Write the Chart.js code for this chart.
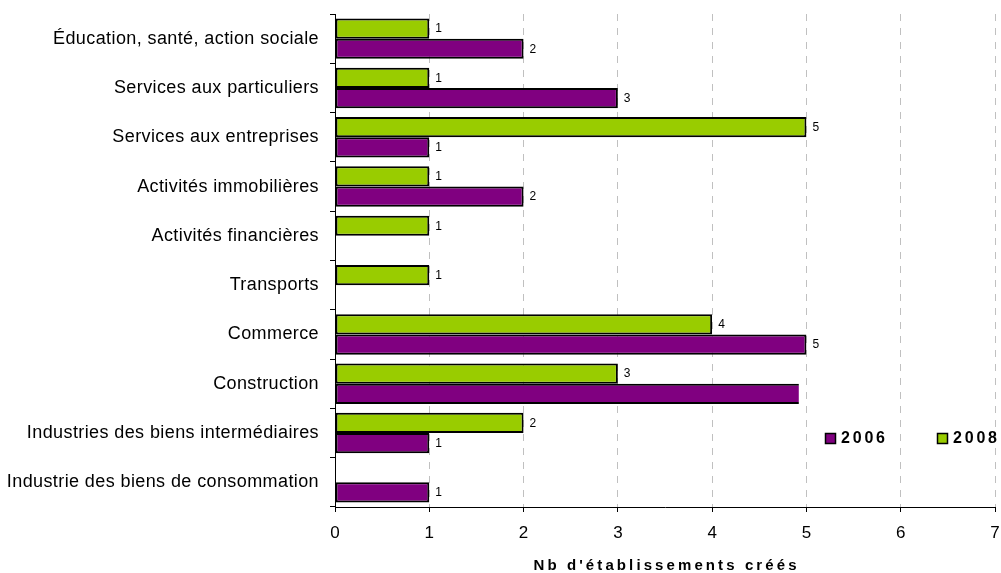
<!DOCTYPE html>
<html>
<head>
<meta charset="utf-8">
<script src="https://cdn.jsdelivr.net/npm/chart.js@4.4.1/dist/chart.umd.min.js"></script>
<style>
  html, body { margin: 0; padding: 0; background: #fff; }
  #wrap { position: relative; width: 1001px; height: 573px; }
</style>
</head>
<body>
<div id="wrap"><canvas id="c"></canvas></div>
<script>
const categories = [
  "Éducation, santé, action sociale",
  "Services aux particuliers",
  "Services aux entreprises",
  "Activités immobilières",
  "Activités financières",
  "Transports",
  "Commerce",
  "Construction",
  "Industries des biens intermédiaires",
  "Industrie des biens de consommation"
];
const values2008 = [1, 1, 5, 1, 1, 1, 4, 3, 2, null];
const values2006 = [2, 3, 1, 2, null, null, 5, 4.92, 1, 1];
const seriesNames = ["2008", "2006"];
const xTickValues = [0, 1, 2, 3, 4, 5, 6, 7];
const axisTitle = "Nb d'établissements créés";

const GREEN = "#99CC00";
const PURPLE = "#800080";
const FONT = "'Liberation Sans', Arial, sans-serif";

const dataLabels = {
  id: "dataLabels",
  afterDatasetsDraw(chart) {
    const ctx = chart.ctx;
    ctx.save();
    ctx.font = "12px " + FONT;
    ctx.fillStyle = "#000";
    ctx.textAlign = "left";
    ctx.textBaseline = "middle";
    chart.data.datasets.forEach((ds, di) => {
      const meta = chart.getDatasetMeta(di);
      meta.data.forEach((el, i) => {
        const v = ds.data[i];
        if (v === null || v === undefined || !Number.isInteger(v)) return;
        ctx.fillText(String(v), el.x + 6, el.y + 0.5);
      });
    });
    ctx.restore();
  }
};

const extras = {
  id: "extras",
  afterDraw(chart) {
    const ctx = chart.ctx;
    const area = chart.chartArea;
    ctx.save();
    // axis title
    ctx.font = "bold 15px " + FONT;
    ctx.fillStyle = "#000";
    ctx.textBaseline = "alphabetic";
    ctx.textAlign = "left";
    const sp = 3.1;
    ctx.letterSpacing = sp + "px";
    const w = ctx.measureText(axisTitle).width - sp;
    ctx.fillText(axisTitle, (area.left + area.right) / 2 - w / 2, 570);
    // legend
    const items = [
      { label: seriesNames[1], color: PURPLE, x: 825 },
      { label: seriesNames[0], color: GREEN, x: 937 }
    ];
    ctx.font = "bold 16px " + FONT;
    ctx.letterSpacing = "2.8px";
    ctx.textBaseline = "middle";
    items.forEach(it => {
      ctx.fillStyle = it.color;
      ctx.fillRect(it.x, 433, 11, 11);
      ctx.strokeStyle = "#000";
      ctx.lineWidth = 1.5;
      ctx.strokeRect(it.x + 0.5, 433.5, 10, 10);
      ctx.fillStyle = "#000";
      ctx.fillText(it.label, it.x + 16, 439);
    });
    ctx.restore();
  }
};

new Chart(document.getElementById("c"), {
  type: "bar",
  data: {
    labels: categories,
    datasets: [
      {
        label: seriesNames[0],
        data: values2008,
        backgroundColor: GREEN,
        borderColor: "#000",
        borderWidth: 2,
        borderSkipped: false,
        categoryPercentage: 0.82,
        barPercentage: 1.0
      },
      {
        label: seriesNames[1],
        data: values2006,
        backgroundColor: PURPLE,
        borderColor: "#000",
        borderWidth: 2,
        borderSkipped: (c) => (Number.isInteger(c.raw) ? false : "end"),
        categoryPercentage: 0.82,
        barPercentage: 1.0
      }
    ]
  },
  options: {
    indexAxis: "y",
    responsive: true,
    maintainAspectRatio: false,
    animation: false,
    layout: { padding: { top: 14, right: 6, bottom: 0, left: 0 } },
    plugins: {
      legend: { display: false },
      tooltip: { enabled: false }
    },
    scales: {
      x: {
        type: "linear",
        min: xTickValues[0],
        max: xTickValues[xTickValues.length - 1],
        afterBuildTicks(scale) {
          scale.ticks = xTickValues.map(v => ({ value: v }));
        },
        ticks: {
          stepSize: 1,
          color: "#000",
          font: { family: FONT, size: 17 },
          padding: 11
        },
        grid: {
          color: (c) => (c.tick && c.tick.value === 0 ? "rgba(0,0,0,0)" : "#c0c0c0"),
          lineWidth: 1,
          tickColor: "#000",
          tickLength: 5,
          tickWidth: 1
        },
        border: { display: true, color: "#000", width: 1, dash: [7, 7] },
        afterFit(scale) {
          scale.height = 66;
          scale.paddingLeft = 0;
          scale.paddingRight = 0;
        }
      },
      y: {
        type: "category",
        ticks: {
          color: "#000",
          font: { family: FONT, size: 18 },
          padding: 11
        },
        grid: {
          drawOnChartArea: false,
          offset: true,
          tickColor: "#000",
          tickLength: 5,
          tickWidth: 1
        },
        border: { display: true, color: "#000", width: 1 },
        afterFit(scale) {
          scale.width = 335;
          scale.paddingTop = 0;
          scale.paddingBottom = 0;
          if (!scale._lsPatched) {
            const orig = scale.drawLabels;
            scale.drawLabels = function (area) {
              const ctx = this.ctx;
              ctx.save();
              ctx.letterSpacing = "0.4px";
              orig.call(this, area);
              ctx.restore();
            };
            scale._lsPatched = true;
          }
        }
      }
    }
  },
  plugins: [dataLabels, extras]
});
</script>
</body>
</html>
